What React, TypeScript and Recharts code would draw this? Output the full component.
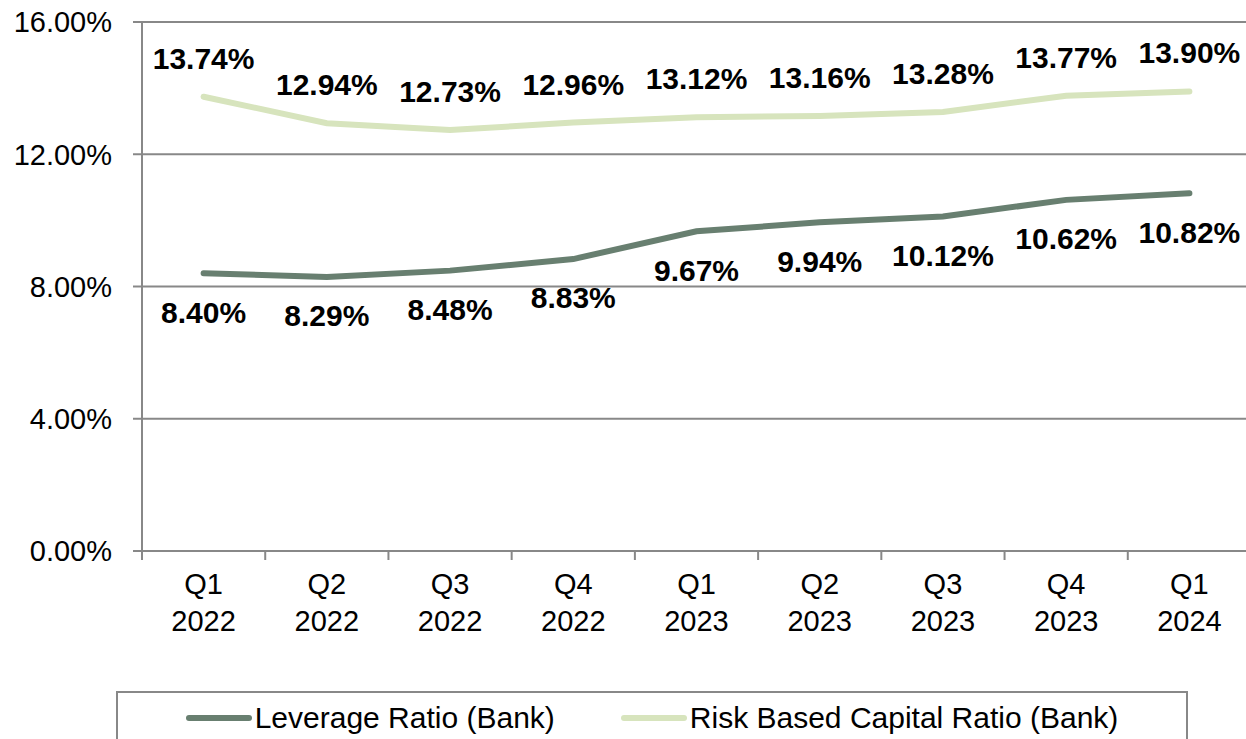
import { LineChart, Line, XAxis, YAxis, CartesianGrid, LabelList } from 'recharts'

const quarters = ['Q1 2022', 'Q2 2022', 'Q3 2022', 'Q4 2022', 'Q1 2023', 'Q2 2023', 'Q3 2023', 'Q4 2023', 'Q1 2024']
const leverage = [8.4, 8.29, 8.48, 8.83, 9.67, 9.94, 10.12, 10.62, 10.82]
const riskBased = [13.74, 12.94, 12.73, 12.96, 13.12, 13.16, 13.28, 13.77, 13.9]
const yTicks = [0, 4, 8, 12, 16]

const series = [
  { key: 'leverage', name: 'Leverage Ratio (Bank)', color: '#687f70' },
  { key: 'risk', name: 'Risk Based Capital Ratio (Bank)', color: '#d7e4bd' },
]

const data = quarters.map((q, i) => ({ q, leverage: leverage[i], risk: riskBased[i] }))

const FONT = 'Arial, "Liberation Sans", sans-serif'
const AXIS = '#888888'
const CHART_W = 1251
const LEFT = 142
const BAND = (CHART_W - LEFT) / quarters.length

const fmt = (v: number) => `${v.toFixed(2)}%`

function QuarterTick(props: any) {
  const { x, y, payload } = props
  const [top, bottom] = String(payload.value).split(' ')
  return (
    <g>
      <line x1={x - BAND / 2} x2={x - BAND / 2} y1={y - 8} y2={y + 1} stroke={AXIS} strokeWidth={2} />
      <text x={x} y={y} textAnchor="middle" fontSize={29} fill="#000" fontFamily={FONT}>
        <tspan x={x} dy={35}>{top}</tspan>
        <tspan x={x} dy={37}>{bottom}</tspan>
      </text>
    </g>
  )
}

export default function App() {
  return (
    <div style={{ position: 'absolute', left: 0, top: 0, width: 1246, height: 739, overflow: 'hidden', background: '#fff', fontFamily: FONT }}>
      <LineChart width={CHART_W} height={645} data={data} margin={{ top: 22, right: 0, left: 0, bottom: 0 }}>
        <CartesianGrid vertical={false} stroke={AXIS} strokeWidth={2} />
        <XAxis
          dataKey="q"
          interval={0}
          height={94}
          padding={{ left: BAND / 2, right: BAND / 2 }}
          axisLine={{ stroke: AXIS, strokeWidth: 2 }}
          tickLine={false}
          tick={<QuarterTick />}
        />
        <YAxis
          domain={[0, 16]}
          ticks={yTicks}
          width={LEFT}
          tickFormatter={fmt}
          tickSize={9}
          tickMargin={21}
          axisLine={{ stroke: AXIS, strokeWidth: 2 }}
          tickLine={{ stroke: AXIS, strokeWidth: 2 }}
          tick={{ fontSize: 29, fill: '#000', fontFamily: FONT }}
        />
        {series.map((s) => (
          <Line
            key={s.key}
            dataKey={s.key}
            name={s.name}
            type="linear"
            stroke={s.color}
            strokeWidth={6}
            strokeLinecap="round"
            dot={false}
            isAnimationActive={false}
          >
            <LabelList
              dataKey={s.key}
              position={s.key === 'risk' ? 'top' : 'bottom'}
              offset={28}
              formatter={(v: any) => fmt(Number(v))}
              style={{ fontSize: 30, fontWeight: 700, fill: '#000', fontFamily: FONT }}
            />
          </Line>
        ))}
      </LineChart>
      <div
        style={{
          position: 'absolute',
          left: 116,
          top: 691,
          width: 1072,
          height: 60,
          border: `2px solid ${AXIS}`,
          display: 'flex',
          justifyContent: 'center',
          alignItems: 'flex-start',
          paddingTop: 8,
          boxSizing: 'border-box',
          gap: 66,
        }}
      >
        {series.map((s) => (
          <div key={s.key} style={{ display: 'flex', alignItems: 'center', fontSize: 30, color: '#000', lineHeight: '34px' }}>
            <span style={{ display: 'inline-block', width: 66, height: 6, borderRadius: 3, background: s.color, marginRight: 3 }} />
            {s.name}
          </div>
        ))}
      </div>
    </div>
  )
}
